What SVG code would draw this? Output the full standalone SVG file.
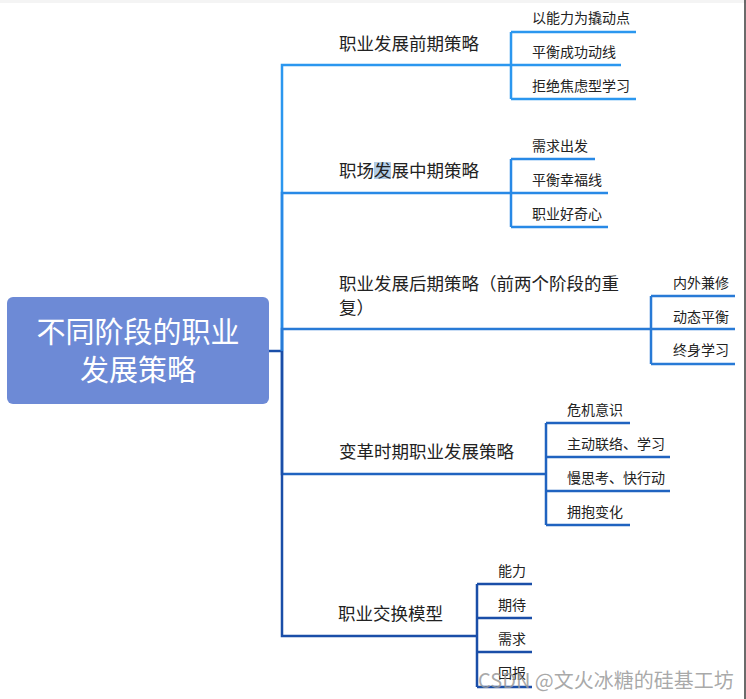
<svg xmlns="http://www.w3.org/2000/svg" width="746" height="699" viewBox="0 0 746 699">
<style>
.t{font-family:"Noto Sans CJK SC","Liberation Sans",sans-serif;fill:#222;}
.main{font-size:17.5px;}
.sub{font-size:14px;}
.root{font-family:"Noto Sans CJK SC","Liberation Sans",sans-serif;font-size:29px;fill:#fff;text-anchor:middle;}
.c{fill:none;stroke-width:2.5;stroke-linejoin:miter;}
.c1{stroke:#2b97ef;}
.c2{stroke:#2889e6;}
.c3{stroke:#287ad6;}
.c4{stroke:#2063c0;}
.c5{stroke:#1a4ea8;}
</style>
<rect x="0" y="0" width="746" height="699" fill="#fff"/>
<rect x="0" y="0" width="746" height="3" fill="#f4f4f4"/>
<line x1="745" y1="0" x2="745" y2="699" stroke="#3a3a3a" stroke-width="1.5"/>

<g id="connectors">
<path class="c c5" d="M269,351 H282"/>
<path class="c c1" d="M282,351 V65 H511"/>
<path class="c c1" d="M511,32 V99 M511,32 H636 M511,65 H621 M511,99 H636"/>
<path class="c c2" d="M282,351 V193 H511"/>
<path class="c c2" d="M511,159 V227 M511,159 H595 M511,193 H608 M511,227 H608"/>
<path class="c c3" d="M282,351 V329 H651"/>
<path class="c c3" d="M651,296 V364 M651,296 H735 M651,329 H735 M651,364 H735"/>
<path class="c c4" d="M282,351 V474 H546"/>
<path class="c c4" d="M546,423 V525 M546,423 H630 M546,457 H670 M546,491 H670 M546,525 H630"/>
<path class="c c5" d="M282,351 V636 H477"/>
<path class="c c5" d="M477,584 V687 M477,584 H532 M477,618 H532 M477,652 H532 M477,687 H532"/>
</g>

<g id="root">
<rect x="7" y="297" width="262" height="107" rx="6" fill="#6d8ad6"/>
<text class="root" x="138" y="343">不同阶段的职业</text>
<text class="root" x="138" y="381">发展策略</text>
</g>

<g id="b1">
<text class="t main" x="339" y="50">职业发展前期策略</text>
</g>
<g id="b1s1"><text class="t sub" x="532" y="23">以能力为撬动点</text></g>
<g id="b1s2"><text class="t sub" x="532" y="57">平衡成功动线</text></g>
<g id="b1s3"><text class="t sub" x="532" y="91">拒绝焦虑型学习</text></g>

<g id="b2">
<rect x="374" y="162" width="17" height="17" fill="#b3cde6"/>
<text class="t main" x="339" y="177">职场发展中期策略</text>
</g>
<g id="b2s1"><text class="t sub" x="532" y="151">需求出发</text></g>
<g id="b2s2"><text class="t sub" x="532" y="185">平衡幸福线</text></g>
<g id="b2s3"><text class="t sub" x="532" y="219">职业好奇心</text></g>

<g id="b3">
<text class="t main" x="339" y="290">职业发展后期策略（前两个阶段的重</text>
<text class="t main" x="339" y="314">复）</text>
</g>
<g id="b3s1"><text class="t sub" x="673" y="288">内外兼修</text></g>
<g id="b3s2"><text class="t sub" x="673" y="322">动态平衡</text></g>
<g id="b3s3"><text class="t sub" x="673" y="355">终身学习</text></g>

<g id="b4">
<text class="t main" x="339" y="458">变革时期职业发展策略</text>
</g>
<g id="b4s1"><text class="t sub" x="567" y="415">危机意识</text></g>
<g id="b4s2"><text class="t sub" x="567" y="449">主动联络、学习</text></g>
<g id="b4s3"><text class="t sub" x="567" y="483">慢思考、快行动</text></g>
<g id="b4s4"><text class="t sub" x="567" y="517">拥抱变化</text></g>

<g id="b5">
<text class="t main" x="338" y="620">职业交换模型</text>
</g>
<g id="b5s1"><text class="t sub" x="498" y="576">能力</text></g>
<g id="b5s2"><text class="t sub" x="498" y="610">期待</text></g>
<g id="b5s3"><text class="t sub" x="498" y="644">需求</text></g>
<g id="b5s4"><text class="t sub" x="498" y="678">回报</text></g>

<text x="478" y="688" font-family="'Noto Sans CJK SC','Liberation Sans',sans-serif" font-size="20" fill="#9a9a9a" fill-opacity="0.85">CSDN @文火冰糖的硅基工坊</text>
</svg>
